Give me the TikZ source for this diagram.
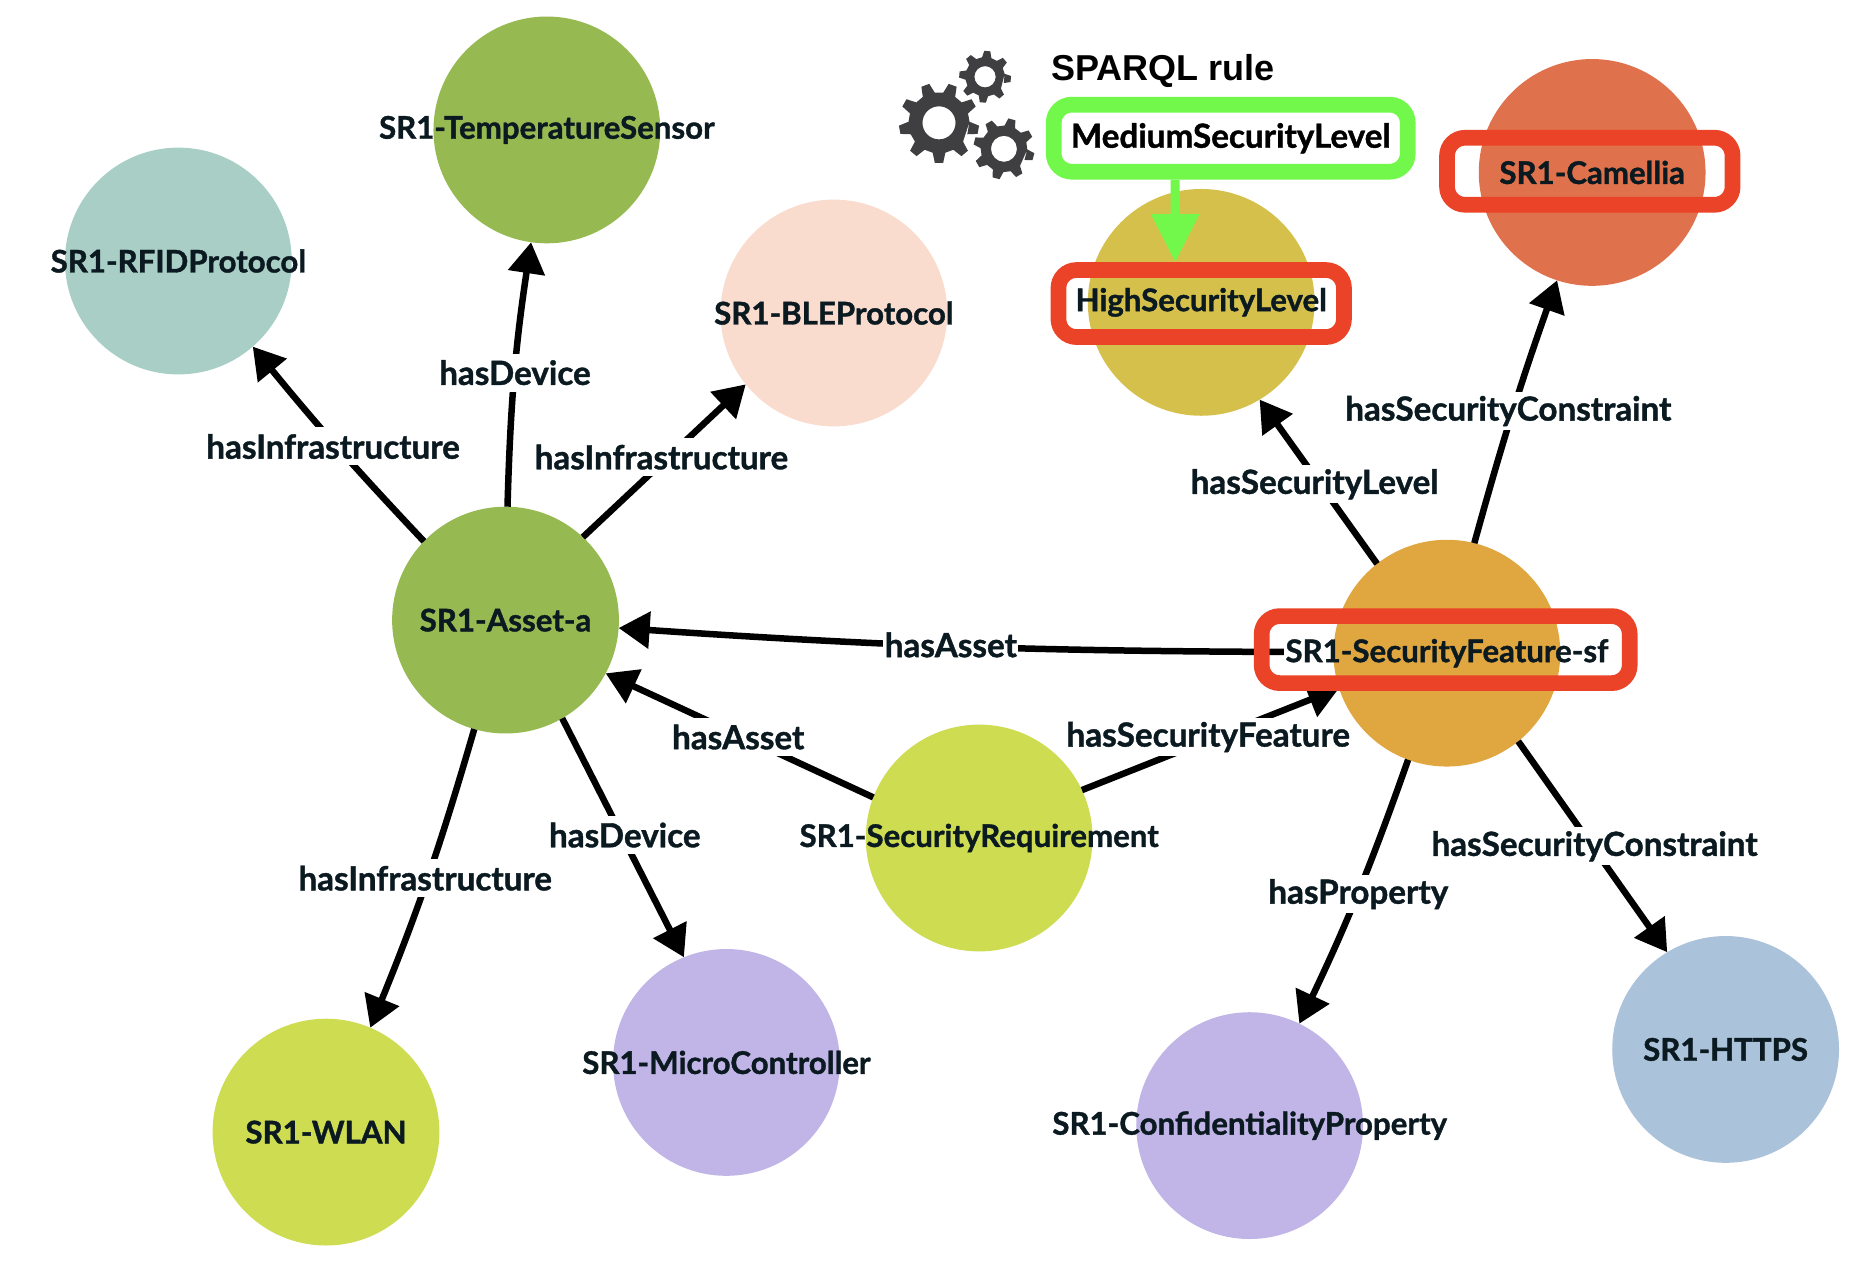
\documentclass[tikz,border=0pt]{standalone}
\usepackage{fontspec}
\setmainfont{Lato}[BoldFeatures={FakeBold=1.2}]
\newfontfamily\rulefont{Liberation Sans}
\usetikzlibrary{arrows.meta}
\definecolor{inkc}{HTML}{0B1A20}
\definecolor{oliveg}{HTML}{96B952}
\definecolor{tealc}{HTML}{A8CEC6}
\definecolor{peachc}{HTML}{F9DCCE}
\definecolor{goldc}{HTML}{D5C04C}
\definecolor{coralc}{HTML}{DF724C}
\definecolor{amberc}{HTML}{E0A640}
\definecolor{limec}{HTML}{CEDC52}
\definecolor{lilacc}{HTML}{C0B5E6}
\definecolor{bluec}{HTML}{ABC2DB}
\definecolor{ringred}{HTML}{EA4327}
\definecolor{ringgreen}{HTML}{72F84A}
\definecolor{cogc}{HTML}{3F3F41}
\tikzset{
  x=1.18112pt,y=-1.18112pt,
  labelfont/.style={font=\fontsize{31.2}{34}\selectfont\bfseries},
  edgefont/.style={font=\fontsize{33.2}{36}\selectfont\bfseries},
  vertex/.style n args={2}{circle,fill=#1,draw=none,minimum size=226.8pt,inner sep=0pt,outer sep=0pt,
    label={[nametext]center:#2}},
  nametext/.style={labelfont,text=inkc,inner sep=0pt},
  edgelabel/.style={edgefont,text=inkc,fill=white,inner xsep=1.5pt,inner ysep=0pt,minimum height=38pt},
  rel/.style={draw=black,line width=6.5pt,-{Triangle[length=31pt,width=36pt]}},
  ring/.style n args={3}{draw=#1,line width=15.7pt,rounded corners=18pt,minimum width=#2,minimum height=#3,inner sep=0pt},
}
\newcommand{\cogwheel}[6]{%
  \pgfmathsetmacro{\cogstep}{360/#5}%
  \fill[cogc,even odd rule,shift={(#1,#2)}]
    ({#6-0.30*\cogstep}:#3*0.76)
    \foreach \i in {1,...,#5} {
      -- ({#6+\i*\cogstep-0.30*\cogstep}:#3*0.76)
      -- ({#6+\i*\cogstep-0.15*\cogstep}:#3)
      -- ({#6+\i*\cogstep+0.15*\cogstep}:#3)
      -- ({#6+\i*\cogstep+0.30*\cogstep}:#3*0.76)
    } -- cycle
    (0,0) circle[radius=#4];%
}
\begin{document}
\begin{tikzpicture}
\useasboundingbox (0,0) rectangle (1568,1066.8);
% nodes
\node[vertex={oliveg}{SR1-TemperatureSensor}] (temp) at (463,110) {};
\node[vertex={tealc}{SR1-RFIDProtocol}] (rfid) at (151,221) {};
\node[vertex={peachc}{SR1-BLEProtocol}] (ble) at (706,265) {};
\node[vertex={oliveg}{SR1-Asset-a}] (asset) at (428,525) {};
\node[vertex={goldc}{HighSecurityLevel}] (high) at (1017,256) {};
\node[vertex={coralc}{SR1-Camellia}] (cam) at (1348,146) {};
\node[vertex={amberc}{SR1-SecurityFeature-sf}] (sf) at (1225,553) {};
\node[vertex={limec}{SR1-SecurityRequirement}] (req) at (829,709.5) {};
\node[vertex={limec}{SR1-WLAN}] (wlan) at (276,958.5) {};
\node[vertex={lilacc}{SR1-MicroController}] (micro) at (615,899.5) {};
\node[vertex={lilacc}{SR1-ConfidentialityProperty}] (conf) at (1058,953) {};
\node[vertex={bluec}{SR1-HTTPS}] (https) at (1461,888.5) {};
\coordinate (sfleft) at (1087,552);
% edges
\draw[rel] (asset.136) to[bend left=2] (rfid.311);
\draw[rel] (asset.89) to[bend left=3.5] (temp.262);
\draw[rel] (asset.47) -- (ble.219.5);
\draw[rel] (req.159) -- (asset.332);
\draw[rel] (sfleft) to[bend left=1.8] (asset.356);
\draw[rel] (req.25) -- (sf.198);
\draw[rel] (asset.254) to[bend left=3] (wlan.67.6);
\draw[rel] (asset.300) -- (micro.112);
\draw[rel] (sf.128.7) -- (high.301.4);
\draw[rel] (sf.76.7) to[bend left=2] (cam.252);
\draw[rel] (sf.250) to[bend left=3] (conf.64);
\draw[rel] (sf.309) -- (https.121);
% edge labels
\node[edgelabel] (l1) at (282,378) {hasInfrastructure};
\node[edgelabel] (l2) at (436,315.5) {hasDevice};
\node[edgelabel] (l3) at (560,387) {hasInfrastructure};
\node[edgelabel] (l4) at (625,624) {hasAsset};
\node[edgelabel] (l5) at (805,546) {hasAsset};
\node[edgelabel] (l6) at (1023,624) {hasSecurityFeature};
\node[edgelabel] (l7) at (360,743.5) {hasInfrastructure};
\node[edgelabel] (l8) at (529,707) {hasDevice};
\node[edgelabel] (l9) at (1113,410) {hasSecurityLevel};
\node[edgelabel] (l10) at (1277,348) {hasSecurityConstraint};
\node[edgelabel] (l11) at (1150,757) {hasProperty};
\node[edgelabel] (l12) at (1350,716.5) {hasSecurityConstraint};
% rings
\node[ring={ringred}{285.5pt}{67pt}] (hiring) at (1017,257) {};
\node[ring={ringred}{285.5pt}{67pt}] (camring) at (1346,145) {};
\node[ring={ringred}{368pt}{67pt}] (sfring) at (1224,550) {};
\node[ring={ringgreen}{354pt}{67pt},edgefont,text=black] (med) at (1042,117) {MediumSecurityLevel};
\draw[draw=ringgreen,line width=9pt,-{Triangle[length=48pt,width=46pt]}] ([xshift=-55.5pt]med.south) -- ([xshift=-26pt]hiring.north);
% rule title and cogs
\node[font=\rulefont\fontsize{36}{38}\selectfont\bfseries,text=black,anchor=west,inner sep=0pt] (rule) at (890,60) {SPARQL rule};
\cogwheel{795}{104}{34}{14}{9}{10}
\cogwheel{834}{65}{22}{9}{8}{5}
\cogwheel{850}{126}{26}{11}{8}{15}
\end{tikzpicture}
\end{document}
